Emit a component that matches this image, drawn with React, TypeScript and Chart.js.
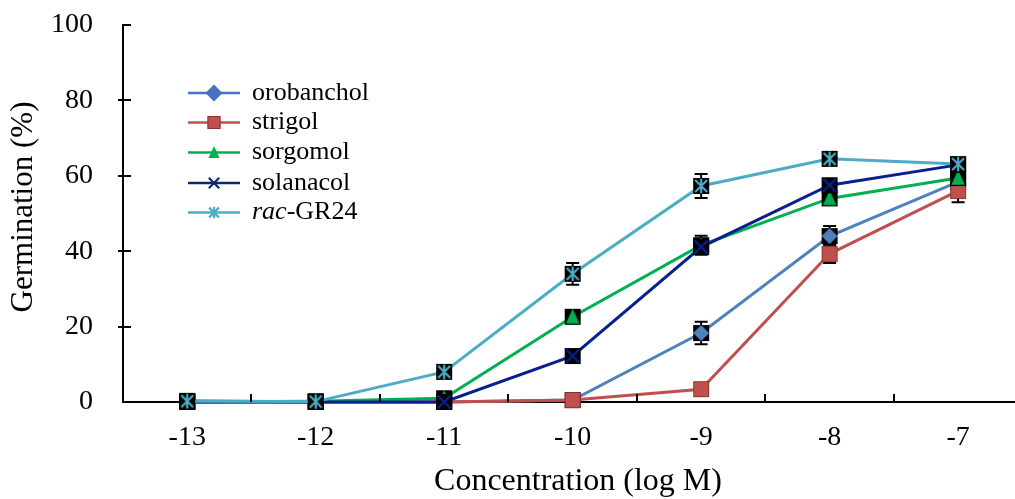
import React, { useEffect, useRef } from 'react';
import { Chart, registerables } from 'chart.js';

Chart.register(...registerables);

// ---- data ----
const concentrations = [-13, -12, -11, -10, -9, -8, -7];
const halfTicks = [-12.5, -11.5, -10.5, -9.5, -8.5, -7.5];
const yTicks = [0, 20, 40, 60, 80, 100];

const orobanchol = [0.3, 0, 0, 0.5, 18.3, 44, 58.4];
const orobancholErr = [0, 0, 0, 0.3, 3, 2.7, 1];
const strigol = [0, 0, 0, 0.5, 3.4, 39.3, 56];
const strigolErr = [0, 0, 0, 0.3, 0.5, 2.4, 3];
const sorgomol = [0, 0.2, 1, 22.6, 41.6, 54, 59.4];
const sorgomolErr = [0, 0, 0.5, 1.5, 2.5, 1.5, 1.5];
const solanacol = [0, 0, 0, 12.2, 41.1, 57.5, 62.9];
const solanacolErr = [0, 0, 0.3, 1, 2, 1.5, 1];
const racGR24 = [0.2, 0.1, 8, 34, 57.3, 64.5, 63.1];
const racGR24Err = [0.5, 0.3, 1, 2.9, 3.2, 1.5, 1];

const seriesNames = ['orobanchol', 'strigol', 'sorgomol', 'solanacol', 'rac-GR24'];
const seriesValues = [orobanchol, strigol, sorgomol, solanacol, racGR24];
const seriesErrors = [orobancholErr, strigolErr, sorgomolErr, solanacolErr, racGR24Err];
const lineColors = ['#4F81BD', '#C0504D', '#00B050', '#0A1F8F', '#4BACC6'];
const legendColors = ['#4472C4', '#C0504D', '#00B050', '#0F2A6B', '#4BACC6'];
const markerKinds = ['diamond', 'square', 'triangle', 'cross', 'star'];

const SERIF = '"Liberation Serif", "Times New Roman", serif';

function drawShape(ctx: CanvasRenderingContext2D, kind: string, color: string, cx: number, cy: number, s: number) {
  ctx.save();
  ctx.fillStyle = color;
  ctx.strokeStyle = color;
  ctx.lineCap = 'butt';
  if (kind === 'diamond') {
    ctx.beginPath();
    ctx.moveTo(cx, cy - s);
    ctx.lineTo(cx + s, cy);
    ctx.lineTo(cx, cy + s);
    ctx.lineTo(cx - s, cy);
    ctx.closePath();
    ctx.fill();
  } else if (kind === 'square') {
    ctx.fillRect(cx - s, cy - s, 2 * s, 2 * s);
    ctx.strokeStyle = '#8E3431';
    ctx.lineWidth = 1;
    ctx.strokeRect(cx - s + 0.5, cy - s + 0.5, 2 * s - 1, 2 * s - 1);
  } else if (kind === 'triangle') {
    ctx.beginPath();
    ctx.moveTo(cx, cy - s);
    ctx.lineTo(cx + s * 0.85, cy + s * 0.85);
    ctx.lineTo(cx - s * 0.85, cy + s * 0.85);
    ctx.closePath();
    ctx.fill();
  } else if (kind === 'cross') {
    ctx.lineWidth = 2.2;
    ctx.beginPath();
    ctx.moveTo(cx - s * 0.8, cy - s * 0.8);
    ctx.lineTo(cx + s * 0.8, cy + s * 0.8);
    ctx.moveTo(cx + s * 0.8, cy - s * 0.8);
    ctx.lineTo(cx - s * 0.8, cy + s * 0.8);
    ctx.stroke();
  } else if (kind === 'star') {
    ctx.lineWidth = 2.2;
    ctx.beginPath();
    ctx.moveTo(cx, cy - s * 0.9);
    ctx.lineTo(cx, cy + s * 0.9);
    ctx.moveTo(cx - s * 0.75, cy - s * 0.75);
    ctx.lineTo(cx + s * 0.75, cy + s * 0.75);
    ctx.moveTo(cx + s * 0.75, cy - s * 0.75);
    ctx.lineTo(cx - s * 0.75, cy + s * 0.75);
    ctx.stroke();
  }
  ctx.restore();
}

function makeMarker(kind: string, color: string): HTMLCanvasElement {
  const c = document.createElement('canvas');
  c.width = 18;
  c.height = 18;
  const ctx = c.getContext('2d')!;
  if (kind !== 'square') {
    ctx.fillStyle = '#000';
    ctx.fillRect(1, 1, 16, 16);
  }
  drawShape(ctx, kind, color, 9, 9, 8);
  return c;
}

const errorBarPlugin = {
  id: 'errorBars',
  beforeDatasetsDraw(chart: any) {
    const ctx = chart.ctx;
    const ys = chart.scales.y;
    ctx.save();
    ctx.strokeStyle = '#000';
    ctx.lineWidth = 2;
    chart.data.datasets.forEach((ds: any, i: number) => {
      const meta = chart.getDatasetMeta(i);
      const errs = seriesErrors[i];
      meta.data.forEach((pt: any, j: number) => {
        const v = ds.data[j].y;
        const e = errs[j];
        if (!e) return;
        const top = ys.getPixelForValue(v + e);
        const bot = ys.getPixelForValue(Math.max(0, v - e));
        ctx.beginPath();
        ctx.moveTo(pt.x, top);
        ctx.lineTo(pt.x, bot);
        ctx.moveTo(pt.x - 6.5, top);
        ctx.lineTo(pt.x + 6.5, top);
        ctx.moveTo(pt.x - 6.5, bot);
        ctx.lineTo(pt.x + 6.5, bot);
        ctx.stroke();
      });
    });
    ctx.restore();
  },
};

const decorPlugin = {
  id: 'decor',
  afterDraw(chart: any) {
    const ctx = chart.ctx;
    const area = chart.chartArea;
    const xs = chart.scales.x;
    const ys = chart.scales.y;
    ctx.save();
    // inward tick marks
    ctx.strokeStyle = '#000';
    ctx.lineWidth = 2;
    ctx.beginPath();
    halfTicks.forEach((v) => {
      const px = Math.round(xs.getPixelForValue(v));
      ctx.moveTo(px, area.bottom);
      ctx.lineTo(px, area.bottom - 8);
    });
    yTicks.forEach((v) => {
      if (v === 0) return;
      const py = Math.round(ys.getPixelForValue(v));
      ctx.moveTo(v === 100 ? area.left : area.left - 5, py);
      ctx.lineTo(area.left + 8, py);
    });
    ctx.stroke();

    // axis titles
    ctx.fillStyle = '#000';
    ctx.textAlign = 'center';
    ctx.textBaseline = 'middle';
    ctx.font = `32px ${SERIF}`;
    ctx.fillText('Concentration (log M)', 578, 482);
    ctx.save();
    ctx.translate(24, 207);
    ctx.rotate(-Math.PI / 2);
    ctx.font = `31px ${SERIF}`;
    ctx.fillText('Germination (%)', 0, 0);
    ctx.restore();

    // legend
    const ly = [93, 122.5, 152.5, 183, 212.5];
    seriesNames.forEach((name, i) => {
      const y = ly[i];
      ctx.strokeStyle = legendColors[i];
      ctx.lineWidth = 2.5;
      ctx.beginPath();
      ctx.moveTo(188, y);
      ctx.lineTo(240, y);
      ctx.stroke();
      const size = markerKinds[i] === 'diamond' ? 8.5 : 6.5;
      drawShape(ctx, markerKinds[i], legendColors[i], 214, y, size);
      ctx.fillStyle = '#000';
      ctx.textAlign = 'left';
      ctx.textBaseline = 'middle';
      if (name.startsWith('rac-')) {
        ctx.font = `italic 26px ${SERIF}`;
        ctx.fillText('rac', 252, y);
        const w = ctx.measureText('rac').width;
        ctx.font = `26px ${SERIF}`;
        ctx.fillText(name.slice(3), 252 + w, y);
      } else {
        ctx.font = `26px ${SERIF}`;
        ctx.fillText(name, 252, y);
      }
    });
    ctx.restore();
  },
};

function zeroPad(s: any) {
  s.paddingLeft = 0;
  s.paddingRight = 0;
  s.paddingTop = 0;
  s.paddingBottom = 0;
}

export default function App() {
  const ref = useRef<HTMLCanvasElement | null>(null);
  useEffect(() => {
    if (!ref.current) return;
    const datasets = seriesNames.map((name, i) => ({
      label: name,
      data: concentrations.map((x, j) => ({ x, y: seriesValues[i][j] })),
      borderColor: lineColors[i],
      backgroundColor: lineColors[i],
      borderWidth: 3,
      pointStyle: makeMarker(markerKinds[i], lineColors[i]),
      pointRadius: 9,
      pointHoverRadius: 9,
      tension: 0,
      clip: false as any,
      order: 4 - i,
    }));
    const chart = new Chart(ref.current, {
      type: 'line',
      data: { datasets },
      plugins: [errorBarPlugin, decorPlugin],
      options: {
        animation: false,
        responsive: false,
        devicePixelRatio: 1,
        layout: { autoPadding: false, padding: { top: 25, right: 0, left: 0, bottom: 0 } },
        plugins: { legend: { display: false }, tooltip: { enabled: false } },
        events: [],
        scales: {
          x: {
            type: 'linear',
            min: -13.5,
            max: -6.557,
            afterBuildTicks: (s: any) => {
              s.ticks = concentrations.map((v) => ({ value: v }));
            },
            afterFit: (s: any) => {
              s.height = 97;
              zeroPad(s);
            },
            grid: { display: true, drawOnChartArea: false, drawTicks: false },
            border: { display: true, color: '#000', width: 2 },
            ticks: {
              color: '#000',
              font: { family: SERIF, size: 28 },
              padding: 19,
              maxRotation: 0,
              autoSkip: false,
              callback: (v: any) => String(v),
            },
          },
          y: {
            type: 'linear',
            min: 0,
            max: 100,
            afterBuildTicks: (s: any) => {
              s.ticks = yTicks.map((v) => ({ value: v }));
            },
            afterFit: (s: any) => {
              s.width = 123;
              zeroPad(s);
            },
            grid: { display: true, drawOnChartArea: false, drawTicks: false },
            border: { display: true, color: '#000', width: 2 },
            ticks: {
              color: '#000',
              font: { family: SERIF, size: 28 },
              padding: 30,
              callback: (v: any) => String(v),
            },
          },
        },
      } as any,
    });
    return () => chart.destroy();
  }, []);
  return (
    <div style={{ position: 'absolute', left: 0, top: 0, width: 1015, height: 499, background: '#fff' }}>
      <canvas ref={ref} width={1015} height={499} style={{ display: 'block' }} />
    </div>
  );
}
